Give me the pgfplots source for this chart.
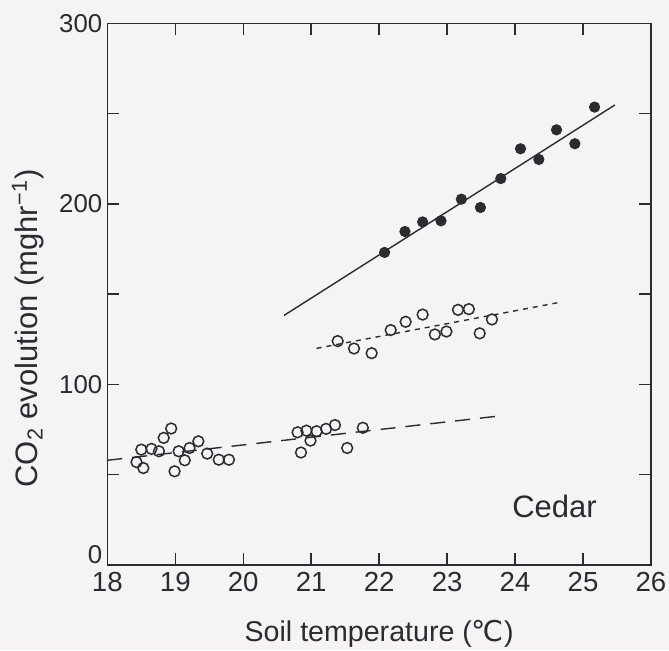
\documentclass[border=0pt]{standalone}
\usepackage{pgfplots}
\pgfplotsset{compat=1.18}
\usepackage{fontspec}
\setmainfont{Liberation Sans}
\newfontfamily\dejavu{DejaVu Sans}
\definecolor{bg}{RGB}{245,243,244}
\definecolor{ink}{RGB}{45,43,45}
\begin{document}
\begin{tikzpicture}
\fill[bg] (-53.65pt,-42.5pt) rectangle (280.85pt,282.5pt);
\begin{axis}[
  at={(0,0)}, anchor=south west, scale only axis,
  width=271.85pt, height=270.85pt,
  xmin=18, xmax=26, ymin=0, ymax=300,
  xtick={18,19,...,26}, ytick={100,200,300}, minor ytick={50,150,250},
  extra y ticks={0},
  extra y tick style={yticklabel style={yshift=5pt}},
  tick align=inside, major tick length=6pt, minor tick length=6pt,
  axis line style={ink, line width=0.7pt},
  every tick/.style={ink, line width=0.7pt},
  font=\fontsize{14.3}{17}\selectfont,
  tick label style={ink},
  xticklabel style={font=\fontsize{13.8}{16}\selectfont},
  yticklabel style={font=\fontsize{12.9}{15}\selectfont, xshift=1pt},
  label style={ink},
  /pgf/number format/assume math mode=true,
  xlabel={Soil temperature ({\dejavu ℃})},
  ylabel={CO\textsubscript{2} evolution (mghr\textsuperscript{−1})},
  xlabel style={at={(axis description cs:0.5,-0.1266)}, anchor=center},
  ylabel style={at={(axis description cs:-0.1459,0.4366)}, anchor=center, font=\fontsize{15.5}{18}\selectfont},
]
% regression lines
\addplot[ink, line width=0.7pt] coordinates {(20.6,138.2) (25.47,254.8)};
\addplot[ink, line width=0.7pt, dash pattern=on 2.5pt off 2.5pt] coordinates {(21.08,120) (24.62,145.2)};
\addplot[ink, line width=0.7pt, dash pattern=on 7.5pt off 5pt] coordinates {(18,58) (23.76,82.5)};
% filled points
\addplot[only marks, mark=*, mark size=2.6pt, mark options={fill=ink, draw=ink}] coordinates {
(22.08,173.1) (22.38,184.7) (22.64,190.0) (22.91,190.6) (23.21,202.6) (23.49,198.0)
(23.79,214.0) (24.08,230.5) (24.35,224.6) (24.61,241.0) (24.88,233.3) (25.17,253.6)
};
% middle open points
\addplot[only marks, mark=o, mark size=2.7pt, mark options={draw=ink, line width=0.75pt}] coordinates {
(21.39,124.0) (21.63,119.9) (21.89,117.3) (22.17,130.1) (22.39,134.7) (22.64,138.7)
(22.82,127.7) (22.99,129.3) (23.16,141.3) (23.32,141.7) (23.48,128.3) (23.66,136.0)
};
% lower open points
\addplot[only marks, mark=o, mark size=2.7pt, mark options={draw=ink, line width=0.75pt}] coordinates {
(18.43,57.0) (18.53,53.7) (18.50,63.9) (18.65,64.3) (18.76,63.0) (18.83,70.4)
(18.94,75.6) (19.05,63.0) (18.99,51.9) (19.14,58.0) (19.21,64.8) (19.34,68.5)
(19.47,61.7) (19.64,58.3) (19.79,58.3)
(20.80,73.5) (20.93,74.4) (20.85,62.3) (20.99,68.9) (21.08,74.1) (21.22,75.4)
(21.35,77.5) (21.53,64.8) (21.76,76.0)
};
\node[ink, font=\fontsize{15.5}{18}\selectfont] at (axis cs:24.58,32.7) {Cedar};
\end{axis}
\pgfresetboundingbox
\path (-53.65pt,-42.5pt) rectangle (280.85pt,282.5pt);
\end{tikzpicture}
\end{document}
